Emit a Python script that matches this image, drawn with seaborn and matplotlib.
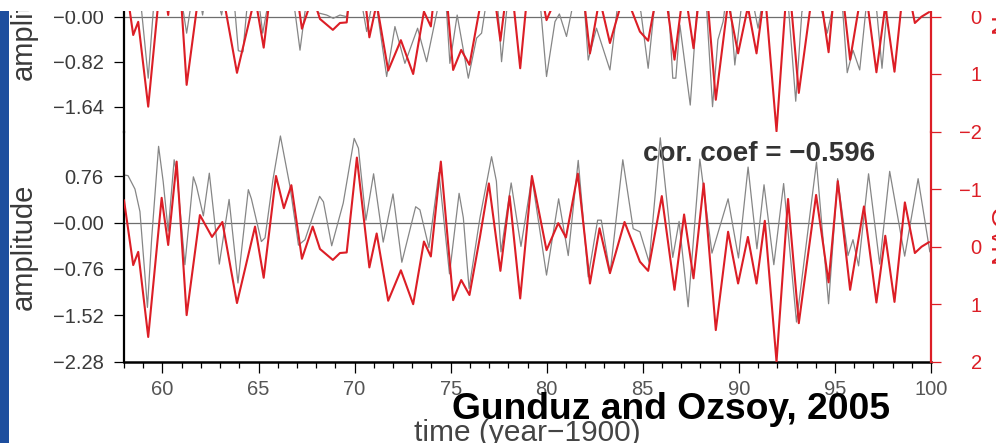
import matplotlib
matplotlib.use("Agg")
import matplotlib.pyplot as plt
from matplotlib.patches import Rectangle
from matplotlib.ticker import FixedLocator, FixedFormatter, MultipleLocator
import seaborn as sns

# ---------------------------------------------------------------- data
# NAO index (plotted on the inverted right axis of both panels)
nao_year = [58.00, 58.48, 58.74, 59.26, 59.96, 60.30, 60.74, 61.26, 61.95, 62.58,
            63.12, 63.88, 64.82, 65.27, 65.91, 66.32, 66.71, 67.26, 67.82, 68.20,
            68.87, 69.24, 69.59, 70.12, 70.77, 71.15, 71.75, 72.41, 73.05, 73.61,
            73.97, 74.49, 75.13, 75.55, 75.98, 76.52, 76.99, 77.59, 78.07, 78.62,
            79.23, 79.99, 80.60, 81.00, 81.62, 82.25, 82.75, 83.29, 84.05, 84.85,
            85.28, 85.99, 86.65, 87.15, 87.64, 88.17, 88.80, 89.44, 89.96, 90.47,
            90.92, 91.35, 91.96, 92.56, 93.12, 94.02, 94.67, 95.15, 95.79, 96.51,
            97.16, 97.62, 98.10, 98.64, 99.16, 99.51, 99.90]
nao_index = [-0.81, 0.32, 0.09, 1.57, -0.85, -0.03, -1.48, 1.19, -0.55, -0.17,
             -0.43, 0.98, -0.35, 0.54, -1.23, -0.67, -1.07, 0.21, -0.35, 0.04,
             0.23, 0.11, 0.10, -1.55, 0.36, -0.23, 0.94, 0.41, 1.00, -0.09,
             0.17, -1.48, 0.93, 0.58, 0.84, -0.16, -1.10, 0.42, -0.88, 0.90,
             -1.23, 0.06, -0.41, -0.16, -1.27, 0.64, -0.32, 0.46, -0.43, 0.26,
             0.42, -0.88, 0.75, -0.56, 0.55, -1.10, 1.45, -0.26, 0.64, -0.17,
             0.64, -0.45, 2.00, -0.83, 1.33, -0.90, 0.62, -1.14, 0.75, -0.70,
             0.97, -0.19, 0.96, -0.77, 0.11, 0.00, -0.08]

# amplitude series of the upper panel
amp_up_year = [58.00, 58.62, 58.92, 59.26, 59.52, 59.80, 60.29, 60.65, 61.09, 61.26,
               61.43, 61.75, 62.09, 62.47, 63.08, 63.41, 63.78, 63.95, 64.19, 64.38,
               64.66, 65.08, 65.22, 65.42, 66.12, 66.90, 67.16, 67.42, 67.78, 68.10,
               68.55, 68.89, 69.24, 69.59, 69.97, 70.45, 70.63, 70.83, 71.06, 71.67,
               72.10, 72.62, 73.28, 73.75, 74.29, 74.49, 74.79, 74.96, 75.34, 75.92,
               76.35, 76.61, 76.78, 77.09, 77.47, 77.65, 77.91, 78.19, 78.66, 79.23,
               79.70, 79.99, 80.43, 80.66, 81.03, 81.29, 81.62, 81.98, 82.16, 82.59,
               83.29, 83.65, 83.96, 84.90, 85.28, 85.58, 85.89, 86.36, 86.56, 86.72,
               86.93, 87.47, 87.81, 88.02, 88.33, 88.63, 88.91, 89.18, 89.43, 89.58,
               89.79, 90.10, 90.47, 90.83, 91.00, 91.14, 91.40, 91.71, 92.34, 92.60,
               92.96, 93.28, 93.80, 94.32, 94.60, 94.84, 95.15, 95.41, 95.64, 95.94,
               96.29, 96.60, 96.81, 97.18, 97.45, 97.70, 97.96, 98.64, 99.31, 99.94]
amp_up = [0.94, 1.12, 0.09, -1.12, 0.09, 1.21, 0.49, 1.03, 0.09, -0.30,
          0.09, 0.76, 0.03, 0.85, 0.03, 0.76, 0.09, -0.62, -0.64, 0.09,
          0.85, 0.09, -0.30, 0.09, 1.21, 0.09, -0.61, 0.09, 0.40, 0.07,
          0.03, -0.03, 0.03, 0.00, 1.03, 0.09, -0.27, 0.09, 0.40, -1.09,
          -0.18, -0.85, -0.21, -0.82, 0.09, 0.58, 0.09, -0.85, 0.03, -1.12,
          -0.39, -0.30, 0.09, 0.85, 0.09, -0.82, 0.09, 0.76, 0.16, 0.85,
          0.09, -1.09, -0.09, 0.05, -0.36, 0.09, 1.03, 0.09, -0.79, -0.21,
          -0.97, 0.09, 0.85, 0.09, -0.94, 0.09, 1.12, 0.09, -1.12, -1.12,
          -0.15, -1.61, 0.09, 0.85, 0.09, -1.64, -0.42, -0.09, 0.58, 0.09,
          -0.88, 0.09, 0.85, 0.09, -0.21, 0.09, 0.49, 0.21, 0.76, 0.09,
          -1.54, 0.09, 0.40, 0.09, -0.30, 0.09, 0.67, 0.09, -1.02, -0.61,
          -0.97, 0.09, 0.67, 0.09, -0.94, 0.09, 0.67, 0.21, 0.67, 0.40]

# amplitude series of the lower panel
amp_lo_year = [58.00, 58.21, 58.57, 58.83, 59.22, 59.44, 59.80, 60.04, 60.30, 60.61,
               60.76, 61.17, 61.61, 61.77, 62.13, 62.44, 62.96, 63.47, 63.93, 64.47,
               64.63, 65.15, 65.34, 65.75, 66.14, 66.64, 67.08, 67.42, 68.18, 68.38,
               68.81, 69.41, 69.98, 70.20, 70.59, 70.99, 71.49, 72.00, 72.46, 73.18,
               73.40, 73.87, 74.39, 74.94, 75.44, 75.66, 75.96, 76.52, 77.13, 77.38,
               77.62, 78.15, 78.66, 79.23, 79.99, 80.62, 81.12, 81.64, 82.16, 82.65,
               82.84, 83.30, 83.96, 84.50, 84.85, 85.33, 85.91, 86.56, 86.89, 87.36,
               87.97, 88.60, 89.44, 89.98, 90.48, 90.94, 91.31, 91.82, 92.33, 93.00,
               94.04, 94.67, 95.14, 95.68, 95.94, 96.23, 96.75, 97.33, 97.85, 98.63,
               99.33, 99.94]
amp_lo = [0.78, 0.77, 0.55, 0.18, -1.39, -0.26, 1.25, 0.67, -0.14, 1.03,
          0.77, -0.69, 0.75, 0.60, 0.11, 0.81, -0.68, 0.38, -0.99, 0.54,
          0.39, -0.31, -0.25, 0.70, 1.42, 0.59, -0.37, -0.28, 0.43, 0.34,
          -0.38, 0.32, 1.38, 1.22, 0.04, 0.80, -0.32, 0.47, -0.65, 0.26,
          0.21, -0.41, 0.82, -0.84, 0.48, 0.08, -1.08, 0.07, 1.08, 0.68,
          -0.48, 0.65, -0.39, 0.74, -0.86, 0.39, -0.54, 1.02, -0.89, 0.04,
          0.04, -0.83, 1.03, -0.10, -0.15, -0.65, 1.39, -0.57, 0.02, -1.38,
          1.04, -0.50, 0.39, -0.58, 0.91, -0.43, 0.62, -0.69, 0.64, -1.63,
          0.99, -1.33, 0.72, -0.54, -0.28, -0.71, 0.80, -0.68, 0.84, -0.55,
          0.72, -0.48]

# tick values and labels
year_ticks = [60, 65, 70, 75, 80, 85, 90, 95, 100]
year_labels = ["60", "65", "70", "75", "80", "85", "90", "95", "100"]
amp_up_ticks = [-1.64, -0.82, 0.0]
amp_up_labels = ["\u22121.64", "\u22120.82", "\u22120.00"]
amp_lo_ticks = [-2.28, -1.52, -0.76, 0.0, 0.76]
amp_lo_labels = ["\u22122.28", "\u22121.52", "\u22120.76", "\u22120.00", "0.76"]
nao_up_ticks = [0, 1]
nao_up_labels = ["0", "1"]
nao_lo_ticks = [-2, -1, 0, 1, 2]
nao_lo_labels = ["\u22122", "\u22121", "0", "1", "2"]
corr_text = "cor. coef = \u22120.596"

# ---------------------------------------------------------------- style
sns.set_style("white")
plt.rcParams["font.family"] = ["Liberation Sans", "DejaVu Sans"]

RED = "#dc1e26"
GRAY = "#868686"
ZERO = "#6e6e6e"
LABEL = "#3a3a3a"

W, H = 996, 443
fig = plt.figure(figsize=(W / 100, H / 100), dpi=100)
fig.patch.set_facecolor("white")


def fx(px):
    return px / W


def fy(py):
    return 1 - py / H


X0, X1 = 124, 931
Y_MID, Y_BOT = 131.7, 361.7

ax_lo = fig.add_axes([fx(X0), fy(Y_BOT), fx(X1) - fx(X0), fy(Y_MID) - fy(Y_BOT)])
ax_up = fig.add_axes([fx(X0), fy(Y_MID), fx(X1) - fx(X0), 1 - fy(Y_MID)])
for a in (ax_lo, ax_up):
    a.set_facecolor("none")

# ---------------------------------------------------------------- lines
sns.lineplot(x=amp_lo_year, y=amp_lo, ax=ax_lo, color=GRAY, linewidth=0.9,
             errorbar=None, zorder=2)
sns.lineplot(x=amp_up_year, y=amp_up, ax=ax_up, color=GRAY, linewidth=0.9,
             errorbar=None, zorder=2)
for a in (ax_lo, ax_up):
    a.axhline(0, color=ZERO, linewidth=0.9, zorder=1)

ax_lo_r = ax_lo.twinx()
ax_up_r = ax_up.twinx()
sns.lineplot(x=nao_year, y=nao_index, ax=ax_lo_r, color=RED, linewidth=1.5,
             errorbar=None)
sns.lineplot(x=nao_year, y=nao_index, ax=ax_up_r, color=RED, linewidth=1.5,
             errorbar=None)

# ---------------------------------------------------------------- limits
for a in (ax_lo, ax_up, ax_lo_r, ax_up_r):
    a.set_xlim(58, 100)
    a.set_xlabel("")
    a.set_ylabel("")
ax_lo.set_ylim(-2.28, 1.49)
ax_up.set_ylim(-2.095, 0.304)
ax_lo_r.set_ylim(2.0, -2.0)
ax_up_r.set_ylim(2.007, -0.291)

# ---------------------------------------------------------------- spines
for a in (ax_lo, ax_up):
    a.spines["top"].set_visible(False)
    a.spines["right"].set_visible(False)
    a.spines["left"].set_color("black")
    a.spines["left"].set_linewidth(1.6)
ax_lo.spines["bottom"].set_color("black")
ax_lo.spines["bottom"].set_linewidth(1.8)
ax_up.spines["bottom"].set_visible(False)
for a in (ax_lo_r, ax_up_r):
    for s in ("top", "left", "bottom"):
        a.spines[s].set_visible(False)
    a.spines["right"].set_color(RED)
    a.spines["right"].set_linewidth(1.6)

# ---------------------------------------------------------------- ticks
ax_lo.xaxis.set_major_locator(FixedLocator(year_ticks))
ax_lo.xaxis.set_major_formatter(FixedFormatter(year_labels))
ax_lo.xaxis.set_minor_locator(MultipleLocator(1))
ax_lo.tick_params(axis="x", which="major", bottom=True, direction="out",
                  length=8, width=0.9, color="black", pad=5,
                  labelsize=14.5, labelcolor="#555555")
ax_lo.tick_params(axis="x", which="minor", bottom=True, direction="out",
                  length=4.5, width=0.9, color="black")
ax_up.tick_params(axis="x", which="both", bottom=False, labelbottom=False)

ax_lo.yaxis.set_major_locator(FixedLocator(amp_lo_ticks))
ax_lo.yaxis.set_major_formatter(FixedFormatter(amp_lo_labels))
ax_up.yaxis.set_major_locator(FixedLocator(amp_up_ticks))
ax_up.yaxis.set_major_formatter(FixedFormatter(amp_up_labels))
for a in (ax_lo, ax_up):
    a.tick_params(axis="y", left=True, direction="out", length=7.5, width=0.9,
                  color="black", pad=7, labelsize=14.5, labelcolor=LABEL)

ax_lo_r.yaxis.set_major_locator(FixedLocator(nao_lo_ticks))
ax_lo_r.yaxis.set_major_formatter(FixedFormatter(nao_lo_labels))
ax_up_r.yaxis.set_major_locator(FixedLocator(nao_up_ticks))
ax_up_r.yaxis.set_major_formatter(FixedFormatter(nao_up_labels))
for a in (ax_lo_r, ax_up_r):
    a.tick_params(axis="y", right=True, direction="out", length=7.5, width=0.9,
                  color=RED, pad=29, labelsize=14.5, labelcolor=RED)
    for lbl in a.get_yticklabels():
        lbl.set_horizontalalignment("right")

# ---------------------------------------------------------------- texts
ax_lo.text(fx(643), fy(161), corr_text, transform=fig.transFigure,
           fontsize=20, fontweight="bold", color="#333333",
           ha="left", va="baseline", zorder=1.5, clip_on=False)

for yc in (247, 17):
    fig.text(fx(24), fy(yc), "amplitude", rotation=90, ha="center",
             va="center", fontsize=21, color=LABEL)
for yc in (233, 3):
    fig.text(fx(1003), fy(yc), "NAO", rotation=90, ha="center", va="center",
             fontsize=20, color=RED)

fig.text(fx(527), fy(441), "time (year\u22121900)", ha="center", va="baseline",
         fontsize=21.5, color="#444444", zorder=10)
fig.text(fx(452), fy(419), "Gunduz and Ozsoy, 2005", ha="left",
         va="baseline", fontsize=26.8, fontweight="bold", color="black",
         zorder=60)

# slide decoration: blue strip on the left and blank margin on top
fig.add_artist(Rectangle((0, 0), fx(9), 1, transform=fig.transFigure,
                         facecolor="#1d4e9e", edgecolor="none", zorder=40))
fig.add_artist(Rectangle((0, fy(11)), 1, 11 / H, transform=fig.transFigure,
                         facecolor="white", edgecolor="none", zorder=50))

fig.savefig("out.png", dpi=100, facecolor="white")
